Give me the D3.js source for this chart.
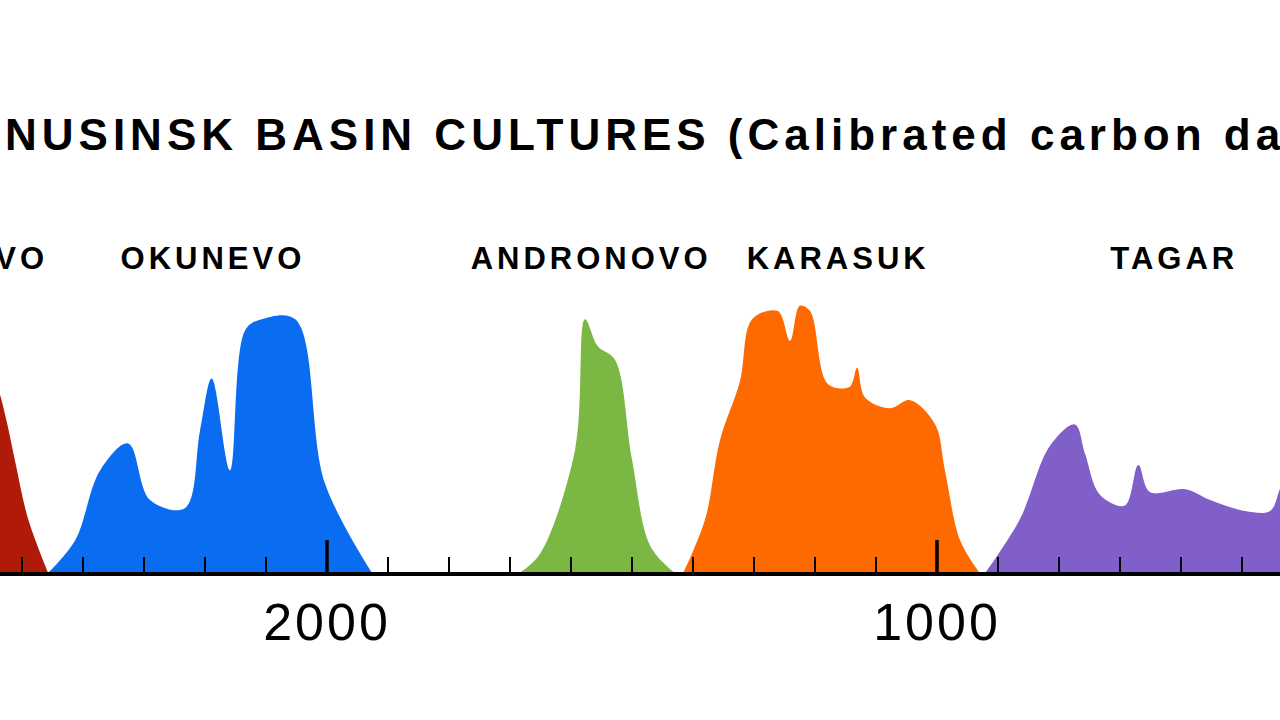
<!DOCTYPE html>
<html>
<head>
<meta charset="utf-8">
<script src="https://cdn.jsdelivr.net/npm/d3@7"></script>
<style>
body { margin: 0; background: #fff; overflow: hidden; }
text { font-family: "Liberation Sans", Arial, sans-serif; }
</style>
</head>
<body>
<svg id="chart" width="1280" height="720"></svg>
<script>
// year BC, relative density
var afanasievo = [[2545, 72], [2536, 66], [2525, 56], [2510, 40], [2490, 20], [2457, 0]];
var okunevo = [[2457, 0], [2413, 12], [2372, 38], [2326, 48], [2290, 27], [2233, 24], [2208, 53],
    [2189, 72], [2159, 38], [2134, 90], [2107, 94], [2052, 94], [2003, 33], [1926, 0]];
var andronovo = [[1684, 0], [1651, 7], [1593, 46], [1577, 94], [1556, 84], [1528, 79], [1500, 42],
    [1470, 10], [1430, 0]];
var karasuk = [[1416, 0], [1380, 20], [1356, 49], [1323, 71], [1303, 94], [1261, 97], [1241, 86],
    [1225, 99], [1208, 97], [1179, 70], [1143, 69], [1131, 76], [1118, 65], [1077, 61], [1044, 64],
    [1003, 55], [987, 38], [962, 12], [930, 0]];
var tagar = [[921, 0], [864, 20], [815, 47], [774, 55], [757, 44], [733, 29], [692, 25], [670, 40],
    [651, 30], [593, 31], [552, 27], [495, 23], [454, 23], [438, 31], [420, 42], [420, 0]];

var cultures = ["AFANASIEVO", "OKUNEVO", "ANDRONOVO", "KARASUK", "TAGAR"];
var series = [afanasievo, okunevo, andronovo, karasuk, tagar];
var colors = ["#b01a08", "#0a6cf0", "#7ab843", "#ff6a00", "#8060c8"];
var labelYears = [2475, 2187, 1567, 1162, 611];
var tickYears = d3.range(2500, 399, -100);
var tickLabels = [2000, 1000];

var svg = d3.select("#chart");
var x = d3.scaleLinear().domain([2000, 1000]).range([327, 937]);
var y = d3.scaleLinear().domain([0, 100]).range([573, 303]);

var area = d3.area()
    .x(function (d) { return x(d[0]); })
    .y0(y(0))
    .y1(function (d) { return y(d[1]); })
    .curve(d3.curveCatmullRom.alpha(0.5));

svg.selectAll("path.culture").data(series)
    .enter().append("path")
    .attr("class", "culture")
    .attr("d", area)
    .attr("fill", function (d, i) { return colors[i]; });

svg.selectAll("text.label").data(cultures)
    .enter().append("text")
    .attr("class", "label")
    .attr("x", function (d, i) { return i === 0 ? 48 : x(labelYears[i]); })
    .attr("y", 269)
    .attr("text-anchor", function (d, i) { return i === 0 ? "end" : "middle"; })
    .attr("font-size", 31)
    .attr("font-weight", "bold")
    .attr("letter-spacing", 4)
    .text(function (d) { return d; });

// axis ticks pointing up
svg.append("g")
    .selectAll("line").data(tickYears)
    .enter().append("line")
    .attr("x1", function (d) { return x(d); })
    .attr("x2", function (d) { return x(d); })
    .attr("y1", 573)
    .attr("y2", function (d) { return d % 1000 === 0 ? 540 : 557; })
    .attr("stroke", "#000")
    .attr("stroke-width", function (d) { return d % 1000 === 0 ? 3.5 : 2; });

svg.append("line")
    .attr("x1", 0).attr("x2", 1280)
    .attr("y1", 574).attr("y2", 574)
    .attr("stroke", "#000")
    .attr("stroke-width", 4);

svg.selectAll("text.tick").data(tickLabels)
    .enter().append("text")
    .attr("class", "tick")
    .attr("x", function (d) { return x(d); })
    .attr("y", 640)
    .attr("text-anchor", "middle")
    .attr("font-size", 52)
    .attr("letter-spacing", 3)
    .text(function (d) { return d; });

var title = svg.append("text")
    .attr("y", 150)
    .attr("font-size", 44)
    .attr("font-weight", "bold")
    .attr("letter-spacing", 5)
    .text("MINUSINSK BASIN CULTURES (Calibrated carbon dates)");
var pre = title.node().getSubStringLength(0, 2);
title.attr("x", 5 - pre);
</script>
</body>
</html>
